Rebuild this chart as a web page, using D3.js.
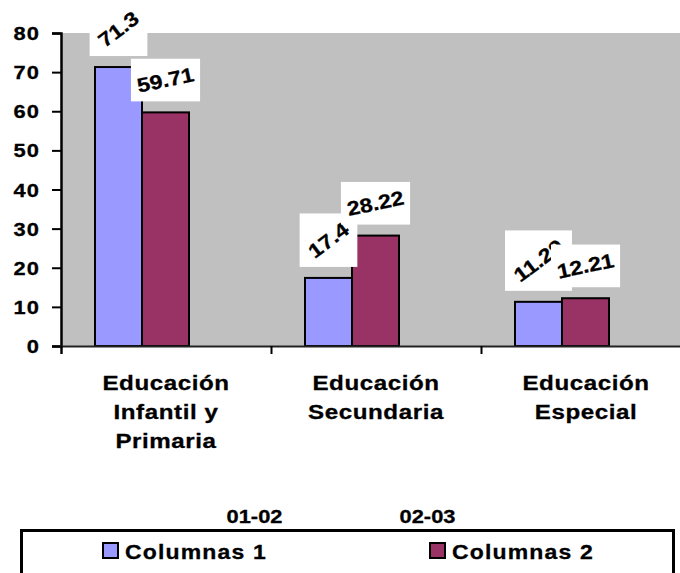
<!DOCTYPE html>
<html>
<head>
<meta charset="utf-8">
<script src="https://cdnjs.cloudflare.com/ajax/libs/d3/7.8.5/d3.min.js"></script>
<style>
  html, body { margin: 0; padding: 0; background: #fff; }
  svg { display: block; }
  text { font-family: "Liberation Sans", Arial, sans-serif; font-weight: bold; fill: #000; stroke: #000; stroke-width: 0.3px; }
</style>
</head>
<body>
<svg id="chart" width="680" height="573"></svg>
<script>
// ---- data ----
const categories = ["Educación Infantil y Primaria", "Educación Secundaria", "Educación Especial"];
const categoryLines = [["Educación", "Infantil y", "Primaria"], ["Educación", "Secundaria"], ["Educación", "Especial"]];
const seriesNames = ["Columnas 1", "Columnas 2"];
const series1 = [71.3, 17.4, 11.29];
const series2 = [59.71, 28.22, 12.21];
const yTicks = [0, 10, 20, 30, 40, 50, 60, 70, 80];
const legendYears = ["01-02", "02-03"];
const seriesColors = ["#9999ff", "#993366"];
const labelAngles = [-37, -12];

// ---- layout ----
const svg = d3.select("#chart");
const SX = 1.15; // horizontal stretch of the reference's text
const plot = { left: 61, right: 691, top: 33, bottom: 346 };

const y = d3.scaleLinear().domain([0, 80]).range([plot.bottom, plot.top]);
const x = d3.scaleBand().domain(categories).range([plot.left, plot.right]).padding(0);
const xInner = d3.scaleBand().domain(seriesNames).range([34, 128]).padding(0);

function stretchedText(parent, px, py, str, size, anchor, spacing) {
  return parent.append("text")
    .attr("transform", `translate(${px},${py}) scale(${SX},1)`)
    .attr("text-anchor", anchor || "start")
    .style("font-size", size + "px")
    .style("letter-spacing", (spacing || 0) + "px")
    .text(str);
}

// plot background
svg.append("rect")
  .attr("x", plot.left).attr("y", plot.top)
  .attr("width", plot.right - plot.left).attr("height", plot.bottom - plot.top)
  .attr("fill", "#c0c0c0");

// bars
const data = categories.map((c, i) => ({ cat: c, values: [series1[i], series2[i]] }));
const groups = svg.append("g").selectAll("g").data(data).join("g")
  .attr("transform", d => `translate(${x(d.cat)},0)`);
groups.selectAll("rect").data(d => d.values.map((v, j) => ({ v, s: seriesNames[j], j })))
  .join("rect")
  .attr("x", d => xInner(d.s))
  .attr("y", d => y(d.v))
  .attr("width", xInner.bandwidth())
  .attr("height", d => y(0) - y(d.v))
  .attr("fill", d => seriesColors[d.j])
  .attr("stroke", "#000")
  .attr("stroke-width", 2);

// axes
const yAxis = d3.axisLeft(y).tickValues(yTicks).tickSize(9).tickFormat("");
const gy = svg.append("g").attr("transform", `translate(${plot.left},0)`).call(yAxis);
gy.select(".domain").attr("stroke", "#000").attr("stroke-width", 2.5);
gy.selectAll(".tick line").attr("stroke", "#000").attr("stroke-width", 2);
yTicks.forEach(t => {
  stretchedText(svg, 40, y(t) + 7, String(t), 19, "end", 1);
});

const xTickScale = d3.scaleLinear().domain([0, categories.length]).range([plot.left, plot.right]);
const xAxis = d3.axisBottom(xTickScale).tickValues(d3.range(categories.length)).tickSize(8).tickFormat("");
const gx = svg.append("g").attr("transform", `translate(0,${plot.bottom})`).call(xAxis);
gx.select(".domain").attr("stroke", "#222").attr("stroke-width", 2);
gx.selectAll(".tick line").attr("stroke", "#000").attr("stroke-width", 2);

// category labels
categories.forEach((c, i) => {
  categoryLines[i].forEach((line, k) => {
    stretchedText(svg, x(c) + x.bandwidth() / 2, 390 + k * 28.8, line, 21, "middle", 0.5);
  });
});

// value labels
const svgRect = svg.node().getBoundingClientRect();
const pad = 4;
[0, 1].forEach(j => {
  data.forEach(d => {
    const v = d.values[j];
    const cx = x(d.cat) + xInner(seriesNames[j]) + xInner.bandwidth() / 2;
    const g = svg.append("g");
    const rect = g.append("rect").attr("fill", "#fff");
    const t = g.append("text")
      .attr("transform", `rotate(${labelAngles[j]}) scale(${SX},1)`)
      .attr("text-anchor", "middle")
      .attr("dominant-baseline", "central")
      .style("font-size", "20px")
      .text(String(v));
    const bb = t.node().getBoundingClientRect();
    const left = bb.left - svgRect.left, top = bb.top - svgRect.top;
    rect.attr("x", left - pad).attr("y", top - pad)
      .attr("width", bb.width + 2 * pad).attr("height", bb.height + 2 * pad);
    const dx = cx - (left + bb.width / 2);
    const dy = (y(v) - 11) - (top + bb.height + pad);
    g.attr("transform", `translate(${dx},${dy})`);
  });
});

// legend
const legendScale = d3.scaleBand().domain(legendYears).range([168, 514]);
legendYears.forEach(yr => {
  stretchedText(svg, legendScale(yr) + legendScale.bandwidth() / 2, 523, yr, 19, "middle");
});
svg.append("rect")
  .attr("x", 21.5).attr("y", 530.5).attr("width", 652).attr("height", 60)
  .attr("fill", "#fff").attr("stroke", "#000").attr("stroke-width", 3);
const legendItems = d3.scaleOrdinal().domain(seriesNames).range([103, 430]);
seriesNames.forEach((s, j) => {
  const lx = legendItems(s);
  svg.append("rect").attr("x", lx).attr("y", 543).attr("width", 15).attr("height", 15)
    .attr("fill", seriesColors[j]).attr("stroke", "#000").attr("stroke-width", 2);
  stretchedText(svg, lx + 22, 559, s, 20, "start", 1);
});
</script>
</body>
</html>
